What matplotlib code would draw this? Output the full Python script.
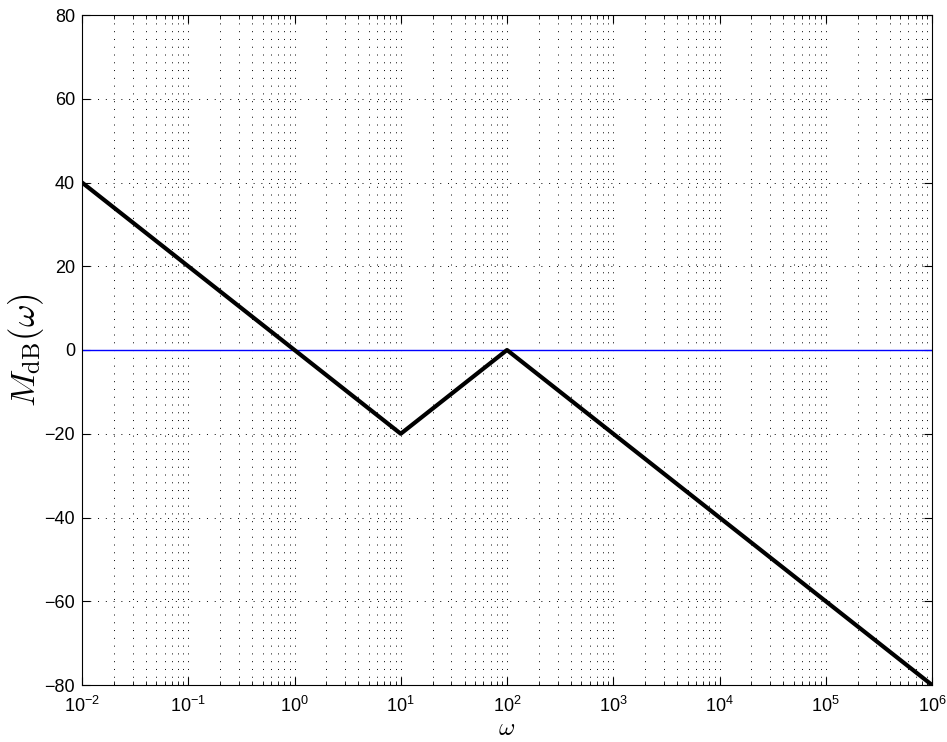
import numpy as np
import matplotlib.pyplot as plt
from matplotlib.ticker import LogLocator, MultipleLocator, NullFormatter

# datos: asintotas del diagrama de Bode (magnitud)
w_pts = [1e-2, 1e1, 1e2, 1e6]
mag_pts = [40, -20, 0, -80]
w_ref = [1e-2, 1e6]
mag_ref = [0, 0]
x_ticks = [1e-2, 1e-1, 1e0, 1e1, 1e2, 1e3, 1e4, 1e5, 1e6]
y_ticks = [-80, -60, -40, -20, 0, 20, 40, 60, 80]

plt.rcParams['font.family'] = ['Liberation Sans', 'DejaVu Sans']
plt.rcParams['mathtext.fontset'] = 'cm'

fig = plt.figure(figsize=(9.47, 7.42), dpi=100)
ax = fig.add_axes([82/947, 57/742, 850/947, 670/742])

ax.semilogx(w_ref, mag_ref, color='blue', linewidth=1)
ax.semilogx(w_pts, mag_pts, color='black', linewidth=3)

ax.set_xlim(1e-2, 1e6)
ax.set_ylim(-80, 80)
ax.set_xticks(x_ticks)
ax.set_yticks(y_ticks)
ax.xaxis.set_minor_locator(LogLocator(base=10, subs=np.arange(2, 10), numticks=20))
ax.xaxis.set_minor_formatter(NullFormatter())

# rejilla punteada estilo matlab
ax.grid(True, which='major', axis='both', linestyle=(0, (1, 7)), color='black', linewidth=0.7)
ax.grid(True, which='minor', axis='x', linestyle=(0, (1, 7)), color='black', linewidth=0.7)

ax.tick_params(which='both', direction='in', top=True, right=True, labelsize=13)
ax.tick_params(which='major', length=6)
ax.tick_params(which='minor', length=3)
ax.tick_params(axis='x', which='major', pad=8)
ax.tick_params(axis='y', which='major', pad=5)

ax.set_xlabel(r'$\omega$', fontsize=18, labelpad=0)
ax.set_ylabel(r'$M_{\mathrm{dB}}(\omega)$', fontsize=25, labelpad=-1)

plt.savefig('out.png', dpi=100)
